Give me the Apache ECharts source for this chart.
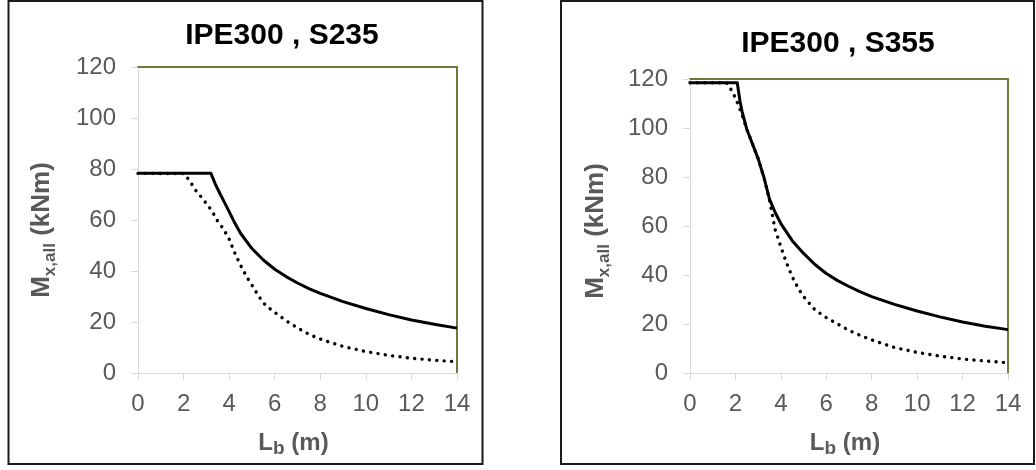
<!DOCTYPE html>
<html>
<head>
<meta charset="utf-8">
<script src="https://cdn.jsdelivr.net/npm/echarts@6/dist/echarts.min.js"></script>
<style>
  html, body { margin: 0; padding: 0; background: #fff; }
  #main { width: 1036px; height: 470px; }
</style>
</head>
<body>
<div id="main"></div>
<script>
var titles = ['IPE300 , S235', 'IPE300 , S355'];
var xTicks = [0, 2, 4, 6, 8, 10, 12, 14];
var yTicks = [0, 20, 40, 60, 80, 100, 120];

var s235SolidLb = [0, 3.2, 3.4, 3.6, 3.8, 4, 4.25, 4.5, 5, 5.5, 6, 6.5, 7, 7.5, 8, 9, 10, 11, 12, 13, 14];
var s235SolidM  = [78.3, 78.3, 74, 70.3, 66.8, 63.3, 58.8, 54.8, 48.8, 44.3, 40.7, 37.8, 35.3, 33.1, 31.2, 28, 25.3, 22.9, 20.8, 19.1, 17.6];
var s235DotLb   = [0, 2, 2.25, 2.5, 2.75, 3, 3.25, 3.5, 3.75, 4, 4.25, 4.5, 4.75, 5, 5.25, 5.5, 5.75, 6, 6.5, 7, 7.5, 8, 9, 10, 11, 12, 13, 14];
var s235DotM    = [78.3, 78.2, 75.7, 72, 69.3, 66.5, 63.5, 59.5, 56.5, 52.5, 47, 42.3, 38, 34.5, 30.8, 27.5, 25.5, 23.8, 20.5, 17.7, 15.2, 13.3, 10.4, 8.4, 6.9, 5.8, 5, 4.4];

var s355SolidLb = [0, 2.08, 2.2, 2.3, 2.5, 2.75, 3, 3.25, 3.5, 3.75, 4, 4.5, 5, 5.5, 6, 6.5, 7, 7.5, 8, 9, 10, 11, 12, 13, 14];
var s355SolidM  = [118.5, 118.5, 111, 106.5, 99.5, 93.5, 87.5, 80, 71, 65.5, 61, 54, 48.8, 44.3, 40.6, 37.7, 35.3, 33.1, 31.2, 28, 25.3, 22.9, 20.8, 19.1, 17.7];
var s355DotLb   = [0, 1.6, 1.8, 2, 2.25, 2.5, 2.75, 3, 3.25, 3.5, 3.75, 4, 4.25, 4.5, 4.75, 5, 5.5, 6, 6.5, 7, 7.5, 8, 9, 10, 11, 12, 13, 14];
var s355DotM    = [118.5, 118.5, 115.8, 112.3, 106.5, 99.5, 93.5, 87.5, 80, 70.5, 58.5, 51.5, 45, 39.3, 34.8, 31.2, 25.8, 22.6, 20, 17.4, 15.3, 13.5, 10.4, 8.4, 6.9, 5.7, 4.9, 4.2];

function pairs(xs, ys) {
    return xs.map(function (x, i) { return [x, ys[i]]; });
}

var grey = '#595959';
var olive = '#6b7b3b';
var font = 'Liberation Sans, Arial, sans-serif';

var grids = [
    { left: 138, top: 67, width: 319, height: 306 },
    { left: 690, top: 79, width: 318, height: 294 }
];

function bottomAxis(g, padRight) {
    return {
        type: 'value', gridIndex: g, position: 'bottom',
        min: xTicks[0], max: xTicks[xTicks.length - 1], interval: xTicks[1] - xTicks[0],
        name: '{b|L}{s|b}{b| (m)}',
        nameLocation: 'middle', nameGap: 55,
        nameTextStyle: {
            color: grey, fontFamily: font, fontWeight: 'bold', fontSize: 24,
            padding: [0, padRight, 0, 0],
            rich: {
                b: { fontSize: 24, fontWeight: 'bold', color: grey, fontFamily: font, lineHeight: 30 },
                s: { fontSize: 19, fontWeight: 'bold', color: grey, fontFamily: font, lineHeight: 15, verticalAlign: 'bottom' }
            }
        },
        axisLine: { onZero: false, lineStyle: { color: '#d9d9d9', width: 1 } },
        axisTick: { show: true, length: 7, lineStyle: { color: '#d9d9d9' } },
        axisLabel: { color: grey, fontSize: 24, fontFamily: font, margin: 19 },
        splitLine: { show: false }
    };
}

function topAxis(g) {
    return {
        type: 'value', gridIndex: g, position: 'top',
        min: 0, max: 14,
        axisLine: { onZero: false, lineStyle: { color: olive, width: 2 } },
        axisTick: { show: false }, axisLabel: { show: false }, splitLine: { show: false }
    };
}

function leftAxis(g, gap, padRight) {
    return {
        type: 'value', gridIndex: g, position: 'left',
        min: yTicks[0], max: yTicks[yTicks.length - 1], interval: yTicks[1] - yTicks[0],
        name: '{b|M}{s|x,all}{b| (kNm)}',
        nameLocation: 'middle', nameGap: gap, nameRotate: 90,
        nameTextStyle: {
            color: grey, fontFamily: font, fontWeight: 'bold', fontSize: 26,
            padding: [0, padRight, 0, 0],
            rich: {
                b: { fontSize: 26, fontWeight: 'bold', color: grey, fontFamily: font, lineHeight: 34 },
                s: { fontSize: 17, fontWeight: 'bold', color: grey, fontFamily: font, lineHeight: 22, verticalAlign: 'bottom' }
            }
        },
        axisLine: { show: true, onZero: false, lineStyle: { color: '#d9d9d9', width: 1 } },
        axisTick: { show: true, length: 7, lineStyle: { color: '#d9d9d9' } },
        axisLabel: { color: grey, fontSize: 24, fontFamily: font, margin: 22 },
        splitLine: { show: false }
    };
}

function rightAxis(g) {
    return {
        type: 'value', gridIndex: g, position: 'right',
        min: 0, max: 120,
        axisLine: { show: true, onZero: false, lineStyle: { color: olive, width: 2 } },
        axisTick: { show: false }, axisLabel: { show: false }, splitLine: { show: false }
    };
}

function solid(xi, yi, data) {
    return {
        type: 'line', xAxisIndex: xi, yAxisIndex: yi, data: data,
        symbol: 'none', smooth: false, z: 3,
        lineStyle: { color: '#000', width: 3, join: 'round' }
    };
}

function dotted(xi, yi, data) {
    return {
        type: 'line', xAxisIndex: xi, yAxisIndex: yi, data: data,
        symbol: 'none', smooth: false, z: 3,
        lineStyle: { color: '#000', width: 3.4, type: [0.1, 7.3], cap: 'round', join: 'round' }
    };
}

var myChart = echarts.init(document.getElementById('main'));
option = {
    animation: false,
    backgroundColor: '#fff',
    grid: grids,
    xAxis: [bottomAxis(0, 8), topAxis(0), bottomAxis(1, 8), topAxis(1)],
    yAxis: [leftAxis(0, 79, 20), rightAxis(0), leftAxis(1, 77, 10), rightAxis(1)],
    graphic: [
        { type: 'rect', shape: { x: 8.5, y: 1, width: 474, height: 463 },
          style: { fill: 'none', stroke: '#1a1a1a', lineWidth: 2 } },
        { type: 'rect', shape: { x: 561, y: 1, width: 473, height: 463 },
          style: { fill: 'none', stroke: '#1a1a1a', lineWidth: 2 } },
        { type: 'text', x: 282, y: 36,
          style: { text: titles[0], align: 'center', verticalAlign: 'middle',
                   fontSize: 30, fontWeight: 'bold', fontFamily: font, fill: '#000' } },
        { type: 'text', x: 838, y: 44,
          style: { text: titles[1], align: 'center', verticalAlign: 'middle',
                   fontSize: 30, fontWeight: 'bold', fontFamily: font, fill: '#000' } }
    ],
    series: [
        dotted(0, 0, pairs(s235DotLb, s235DotM)),
        solid(0, 0, pairs(s235SolidLb, s235SolidM)),
        dotted(2, 2, pairs(s355DotLb, s355DotM)),
        solid(2, 2, pairs(s355SolidLb, s355SolidM))
    ]
};
myChart.setOption(option);
</script>
</body>
</html>
